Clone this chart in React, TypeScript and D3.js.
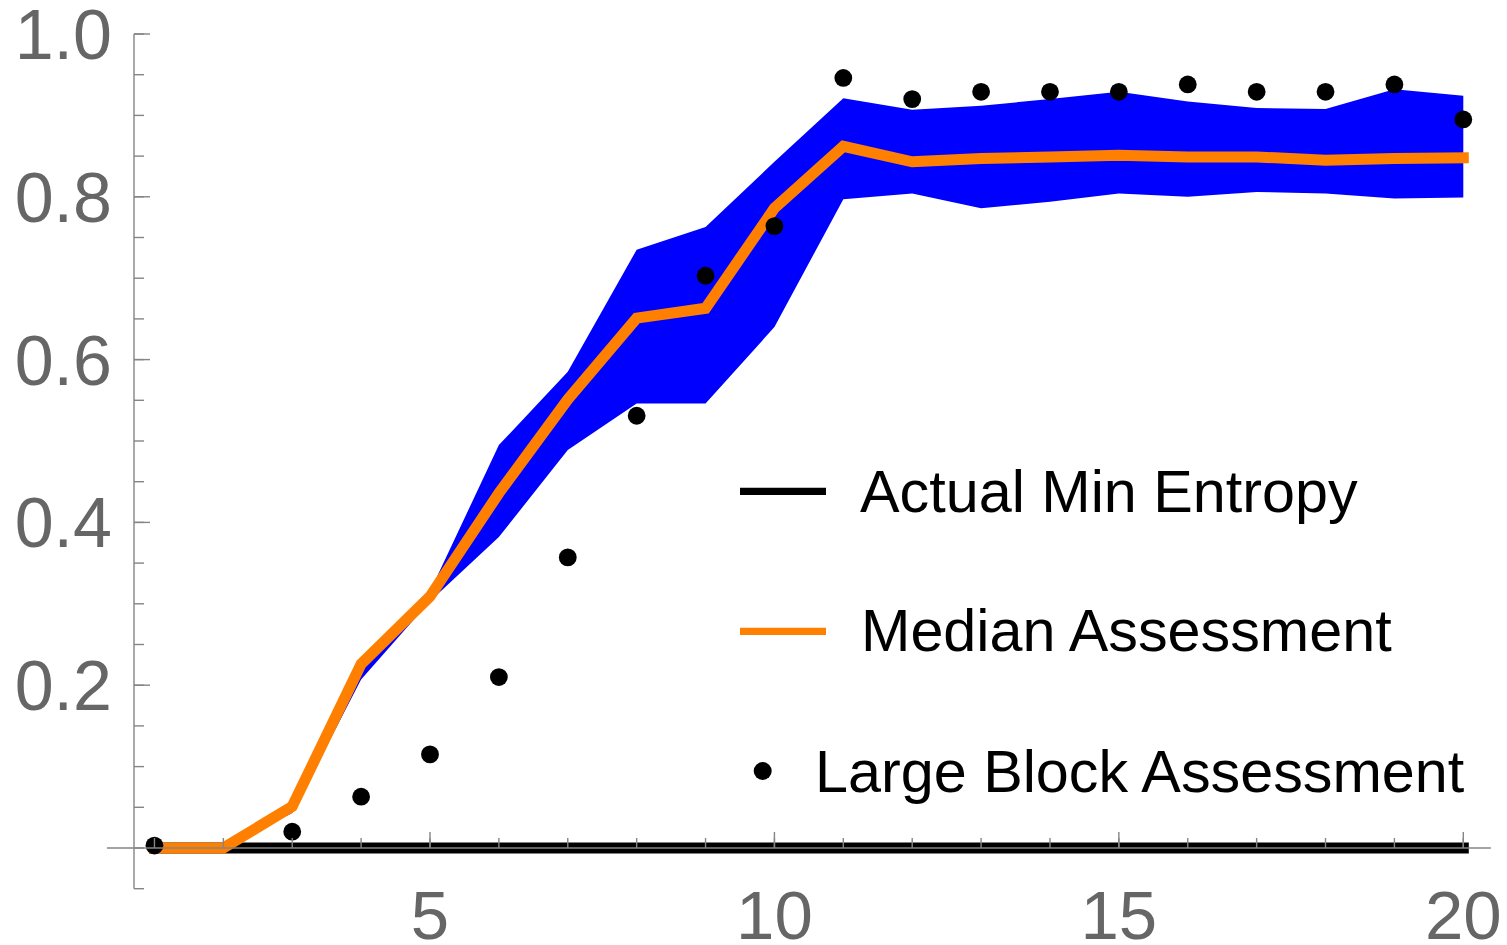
import React from "react";
import * as d3 from "d3";

const blockSizes = [1, 2, 3, 4, 5, 6, 7, 8, 9, 10, 11, 12, 13, 14, 15, 16, 17, 18, 19, 20];
const actualMinEntropy = [0, 0, 0, 0, 0, 0, 0, 0, 0, 0, 0, 0, 0, 0, 0, 0, 0, 0, 0, 0];
const medianAssessment = [0, 0, 0.051, 0.226, 0.309, 0.436, 0.551, 0.651, 0.663, 0.786, 0.862, 0.843, 0.847, 0.849, 0.851, 0.849, 0.849, 0.845, 0.847, 0.848];
const bandUpper = [0, 0, 0.05, 0.225, 0.315, 0.495, 0.585, 0.735, 0.763, 0.843, 0.921, 0.907, 0.912, 0.92, 0.929, 0.917, 0.909, 0.908, 0.932, 0.924];
const bandLower = [0, 0, 0.043, 0.207, 0.303, 0.382, 0.489, 0.546, 0.546, 0.64, 0.797, 0.804, 0.786, 0.794, 0.804, 0.8, 0.806, 0.804, 0.798, 0.799];
const largeBlockX = [1, 3, 4, 5, 6, 7, 8, 9, 10, 11, 12, 13, 14, 15, 16, 17, 18, 19, 20];
const largeBlockAssessment = [0.003, 0.02, 0.063, 0.115, 0.21, 0.357, 0.531, 0.703, 0.764, 0.946, 0.92, 0.929, 0.929, 0.929, 0.938, 0.929, 0.929, 0.938, 0.895];
const xMajorTicks = [5, 10, 15, 20];
const yMajorTicks = [0.2, 0.4, 0.6, 0.8, 1.0];
const yTickLabels = ["0.2", "0.4", "0.6", "0.8", "1.0"];
const legendLabels = ["Actual Min Entropy", "Median Assessment", "Large Block Assessment"];

const W = 1507;
const H = 945;
const FONT = "'Liberation Sans', Arial, Helvetica, sans-serif";
const AXIS = "#858585";
const LABEL = "#666666";
const ORANGE = "#ff8000";
const BLUE = "#0000ff";

export default function App() {
  const x = d3.scaleLinear().domain([5, 20]).range([430, 1463.3]);
  const y = d3.scaleLinear().domain([0, 1]).range([848, 34]);

  const xAxisStart = 0.31;
  const xAxisEnd = 20.4;
  const yAxisAt = 0.703;
  const yAxisBottom = -0.05;

  const idx = blockSizes.map((_, i) => i);
  const area = d3
    .area<number>()
    .x((i) => x(blockSizes[i]))
    .y0((i) => y(bandLower[i]))
    .y1((i) => y(bandUpper[i]))
    .curve(d3.curveLinear);
  const medianLine = d3
    .line<number>()
    .x((i) => x(blockSizes[i]))
    .y((i) => y(medianAssessment[i]));
  const actualLine = d3
    .line<number>()
    .x((i) => x(blockSizes[i]))
    .y((i) => y(actualMinEntropy[i]));

  const yMinor = d3.range(-1, 21).map((k) => k * 0.05);
  const xMinor = blockSizes;

  const ax = x(yAxisAt);
  const ay0 = y(0);

  return (
    <svg
      width={W}
      height={H}
      viewBox={`0 0 ${W} ${H}`}
      style={{ position: "absolute", left: 0, top: 0, background: "#fff" }}
    >
      <rect x={0} y={0} width={W} height={H} fill="#fff" />
      <path d={area(idx) || ""} fill={BLUE} stroke="none" />
      <path
        d={actualLine(idx) || ""}
        fill="none"
        stroke="#000"
        strokeWidth={11}
        strokeLinecap="square"
      />
      <path
        d={medianLine(idx) || ""}
        fill="none"
        stroke={ORANGE}
        strokeWidth={11}
        strokeLinecap="square"
        strokeLinejoin="miter"
      />
      {largeBlockX.map((bx, i) => (
        <circle key={"d" + i} cx={x(bx)} cy={y(largeBlockAssessment[i])} r={8.9} fill="#000" />
      ))}

      {/* axes */}
      <g stroke={AXIS} strokeWidth={1.4} fill="none">
        <line x1={x(xAxisStart)} x2={x(xAxisEnd)} y1={ay0} y2={ay0} />
        <line x1={ax} x2={ax} y1={y(1)} y2={y(yAxisBottom)} />
        {xMinor.map((v) => (
          <line key={"xm" + v} x1={x(v)} x2={x(v)} y1={ay0} y2={ay0 - 10} />
        ))}
        {xMajorTicks.map((v) => (
          <line key={"xM" + v} x1={x(v)} x2={x(v)} y1={ay0} y2={ay0 - 16} />
        ))}
        {yMinor.map((v, i) => (
          <line key={"ym" + i} x1={ax} x2={ax + 10} y1={y(v)} y2={y(v)} />
        ))}
        {yMajorTicks.map((v) => (
          <line key={"yM" + v} x1={ax} x2={ax + 16} y1={y(v)} y2={y(v)} />
        ))}
      </g>
      <g fill={LABEL} fontFamily={FONT} fontSize={69}>
        {xMajorTicks.map((v) => (
          <text key={"xl" + v} x={x(v)} y={939} textAnchor="middle">
            {String(v)}
          </text>
        ))}
      </g>
      <g fill={LABEL} fontFamily={FONT} fontSize={70}>
        {yMajorTicks.map((v, i) => (
          <text key={"yl" + v} x={112} y={y(v)} dy="0.358em" textAnchor="end">
            {yTickLabels[i]}
          </text>
        ))}
      </g>

      {/* legend */}
      <g fontFamily={FONT} fontSize={59.3} fill="#000">
        <line x1={740} x2={826} y1={491.3} y2={491.3} stroke="#000" strokeWidth={7.3} />
        <text x={860} y={511.7}>{legendLabels[0]}</text>
        <line x1={740} x2={826} y1={631.3} y2={631.3} stroke={ORANGE} strokeWidth={7.3} />
        <text x={861} y={651}>{legendLabels[1]}</text>
        <circle cx={762.7} cy={771} r={9} fill="#000" />
        <text x={815} y={791.7}>{legendLabels[2]}</text>
      </g>
    </svg>
  );
}
